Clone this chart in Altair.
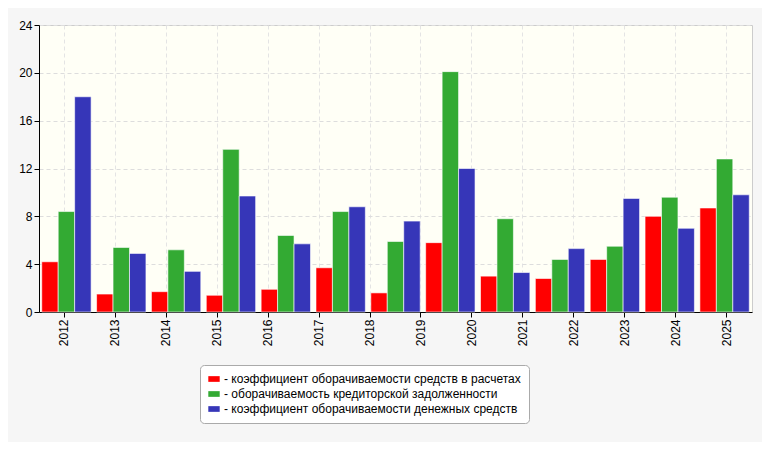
import pandas as pd
import altair as alt

# hodnoty odčítané z obrázka (13 skupín stĺpcov, 14 popisov osi)
groups = [f"g{i}" for i in range(13)]
red = [4.2, 1.5, 1.7, 1.4, 1.9, 3.7, 1.6, 5.8, 3.0, 2.8, 4.4, 8.0, 8.7]
green = [8.4, 5.4, 5.2, 13.6, 6.4, 8.4, 5.9, 20.1, 7.8, 4.4, 5.5, 9.6, 12.8]
blue = [18.0, 4.9, 3.4, 9.7, 5.7, 8.8, 7.6, 12.0, 3.3, 5.3, 9.5, 7.0, 9.8]
years = [str(y) for y in range(2012, 2026)]

series = ["- коэффициент оборачиваемости средств в расчетах",
          "- оборачиваемость кредиторской задолженности",
          "- коэффициент оборачиваемости денежных средств"]
colors = ["#ff0000", "#33aa33", "#3636b8"]

rows = []
for i, g in enumerate(groups):
    for s, vals in zip(series, [red, green, blue]):
        rows.append({"g": g, "s": s, "v": vals[i]})
df = pd.DataFrame(rows)

y_axis = alt.Axis(values=list(range(0, 25, 4)), title=None,
                  gridDash=[4, 3], gridColor="#dddddd",
                  labelFontSize=12, labelColor="#000", domainColor="#000",
                  tickColor="#000")

bars = alt.Chart(df).mark_bar(stroke="white", strokeWidth=0.6).encode(
    x=alt.X("g:N", sort=groups, axis=None,
            scale=alt.Scale(paddingInner=0.1, paddingOuter=0.05)),
    xOffset=alt.XOffset("s:N", sort=series),
    y=alt.Y("v:Q", scale=alt.Scale(domain=[0, 24]), axis=y_axis),
    color=alt.Color("s:N", sort=series,
                    scale=alt.Scale(domain=series, range=colors),
                    legend=alt.Legend(title=None, orient="none", legendX=161, legendY=340,
                                      direction="vertical", labelFontSize=12,
                                      symbolType="M-1,-0.5H1V0.5H-1Z", symbolSize=130,
                                      symbolStrokeWidth=0, labelLimit=400,
                                      fillColor="white", strokeColor="#aaaaaa",
                                      padding=8, cornerRadius=4, rowPadding=3)),
)

labels = alt.Chart(pd.DataFrame({"y": years, "v": [0] * len(years)})).mark_tick(opacity=0).encode(
    x=alt.X("y:N", sort=years, title=None,
            scale=alt.Scale(paddingInner=0, paddingOuter=0),
            axis=alt.Axis(labelAngle=-90, labelFontSize=12, labelColor="#000",
                          labelBaseline="middle", labelAlign="right",
                          grid=True, gridDash=[4, 3], gridColor="#e4e4e4",
                          domainColor="#000", tickColor="#000")),
    y=alt.Y("v:Q", scale=alt.Scale(domain=[0, 24]), axis=y_axis),
)

chart = alt.layer(labels, bars).resolve_scale(x="independent").properties(
    width=713, height=287,
    autosize=alt.AutoSizeParams(type="none"),
    padding={"left": 31, "top": 17, "right": 10, "bottom": 130},
    background="#f6f6f6",
).configure_view(fill="#fffff6", stroke="#cccccc").configure_axis(
    labelFont="Liberation Sans").configure_legend(labelFont="Liberation Sans")

chart.save("out.html", embed_options={"renderer": "svg", "actions": False})
